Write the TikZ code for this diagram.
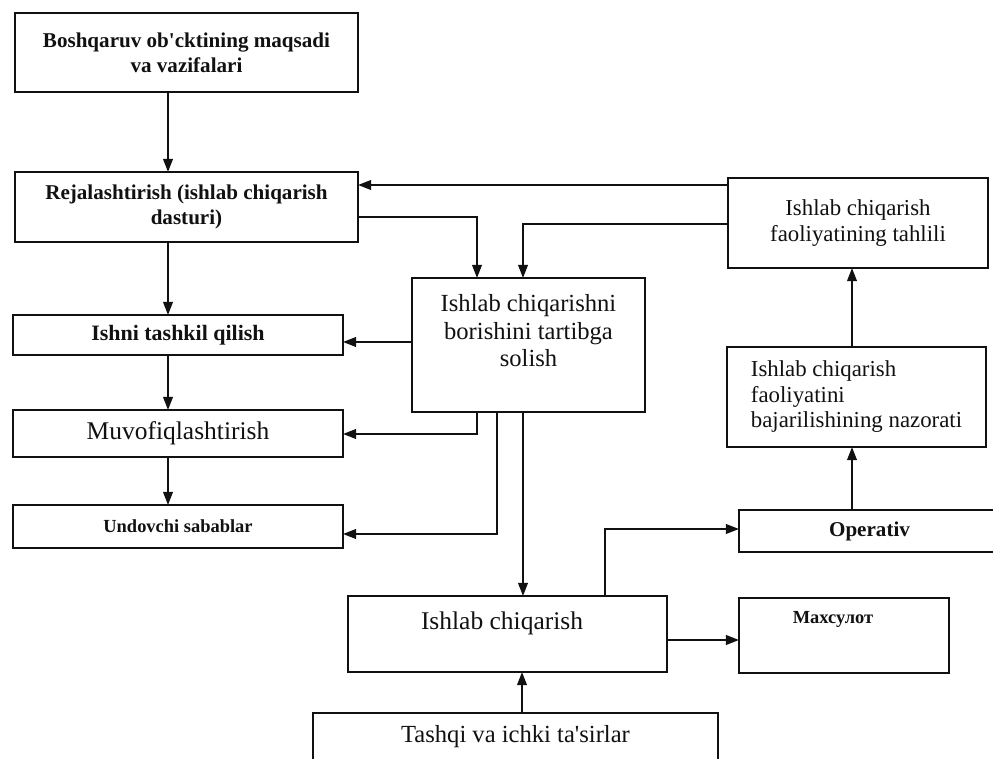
\documentclass[tikz,border=0pt]{standalone}
\usepackage{fontspec}
\setmainfont{Liberation Serif}
\definecolor{InkBlack}{HTML}{111111}
\definecolor{PaperWhite}{HTML}{FFFFFF}
\usepackage{tikz}
\usetikzlibrary{arrows.meta,positioning,calc}
\tikzset{
    % Sharp-cornered boxes
    process/.style={
        rectangle,
        draw=InkBlack,
        line width=1.3pt,
        fill=PaperWhite,
        text=InkBlack,
        inner sep=0pt,
        outer sep=0pt,
        align=center,
        font=\fontsize{13}{15}\selectfont
    },
    process bold/.style={
        process,
        font=\bfseries\fontsize{12}{14}\selectfont
    },
    inner text/.style={
        inner sep=0pt,
        align=center,
        text=InkBlack
    },
    arrow/.style={
        -{Triangle[length=7.5pt,width=5.5pt]},
        line width=1.1pt,
        color=InkBlack
    }
}

\begin{document}
\begin{tikzpicture}[x=0.02cm, y=-0.02cm]
    \useasboundingbox (0,0) rectangle (993,759);

    % left column
    \node[process bold, minimum width=6.86cm, minimum height=1.58cm] (goal) at (186.5,52.5) {Boshqaruv ob\textquotesingle cktining maqsadi\\va vazifalari};
    \node[process bold, minimum width=6.86cm, minimum height=1.4cm] (plan) at (186.5,207) {Rejalashtirish (ishlab chiqarish\\dasturi)};
    \node[process bold, minimum width=6.6cm, minimum height=0.8cm, font=\bfseries\fontsize{12.5}{14}\selectfont] (organize) at (178,335) {Ishni tashkil qilish};
    \node[process, minimum width=6.6cm, minimum height=0.94cm, font=\fontsize{14.5}{16}\selectfont] (coord) at (178,433.5) {Muvofiqlashtirish};
    \node[process bold, minimum width=6.6cm, minimum height=0.86cm, font=\bfseries\fontsize{10.5}{12}\selectfont] (motive) at (178,526.5) {Undovchi sabablar};

    % middle
    \node[process, minimum width=4.66cm, minimum height=2.68cm,
          label={[inner text, anchor=north, yshift=-0.33cm, font=\fontsize{14}{15.5}\selectfont]north:Ishlab chiqarishni\\borishini tartibga\\solish}] (regulate) at (528.5,345) {};
    \node[process, minimum width=6.38cm, minimum height=1.52cm,
          label={[inner text, anchor=north, xshift=-0.11cm, yshift=-0.3cm, font=\fontsize{14.5}{16}\selectfont]north:Ishlab chiqarish}] (production) at (507.5,634) {};
    \node[process, minimum width=8.1cm, minimum height=0.96cm, font=\fontsize{14}{16}\selectfont] (impact) at (515.5,737) {Tashqi va ichki ta\textquotesingle sirlar};

    % right column
    \node[process, minimum width=5.2cm, minimum height=1.8cm, font=\fontsize{13}{14.5}\selectfont] (analysis) at (858,223) {Ishlab chiqarish\\faoliyatining tahlili};
    \node[process, minimum width=5.18cm, minimum height=2.0cm, align=left, font=\fontsize{13}{14.5}\selectfont] (control) at (856.5,397) {Ishlab chiqarish\\faoliyatini\\bajarilishining nazorati};
    \node[process bold, minimum width=5.22cm, minimum height=0.84cm, font=\bfseries\fontsize{12}{15}\selectfont] (operative) at (869.5,531) {Operativ};
    \node[process, minimum width=4.2cm, minimum height=1.5cm,
          label={[inner text, anchor=north, xshift=-0.22cm, yshift=-0.27cm, font=\bfseries\fontsize{10.5}{12}\selectfont]north:Махсулот}] (product) at (844,635.5) {};

    % connectors
    \coordinate (spine) at (168,0);
    \draw[arrow] (goal.south -| spine) -- (plan.north -| spine);
    \draw[arrow] (plan.south -| spine) -- (organize.north -| spine);
    \draw[arrow] (organize.south -| spine) -- (coord.north -| spine);
    \draw[arrow] (coord.south -| spine) -- (motive.north -| spine);

    \draw[arrow] (analysis.west |- 0,185) -- (plan.east |- 0,185);
    \draw[arrow] (plan.east |- 0,217) -| (regulate.north -| 477,0);
    \draw[arrow] (analysis.west |- 0,224) -| (regulate.north -| 523,0);

    \draw[arrow] (regulate.west |- 0,342) -- (organize.east |- 0,342);
    \draw[arrow] (regulate.south -| 477,0) |- (coord.east |- 0,434);
    \draw[arrow] (regulate.south -| 497,0) |- (motive.east |- 0,534);
    \draw[arrow] (regulate.south -| 523,0) -- (production.north -| 523,0);

    \draw[arrow] (impact.north -| 522,0) -- (production.south -| 522,0);
    \draw[arrow] (production.north -| 605,0) |- (operative.west |- 0,529);
    \draw[arrow] (production.east |- 0,640) -- (product.west |- 0,640);

    \draw[arrow] (operative.north -| 852,0) -- (control.south -| 852,0);
    \draw[arrow] (control.north -| 852,0) -- (analysis.south -| 852,0);
\end{tikzpicture}
\end{document}
